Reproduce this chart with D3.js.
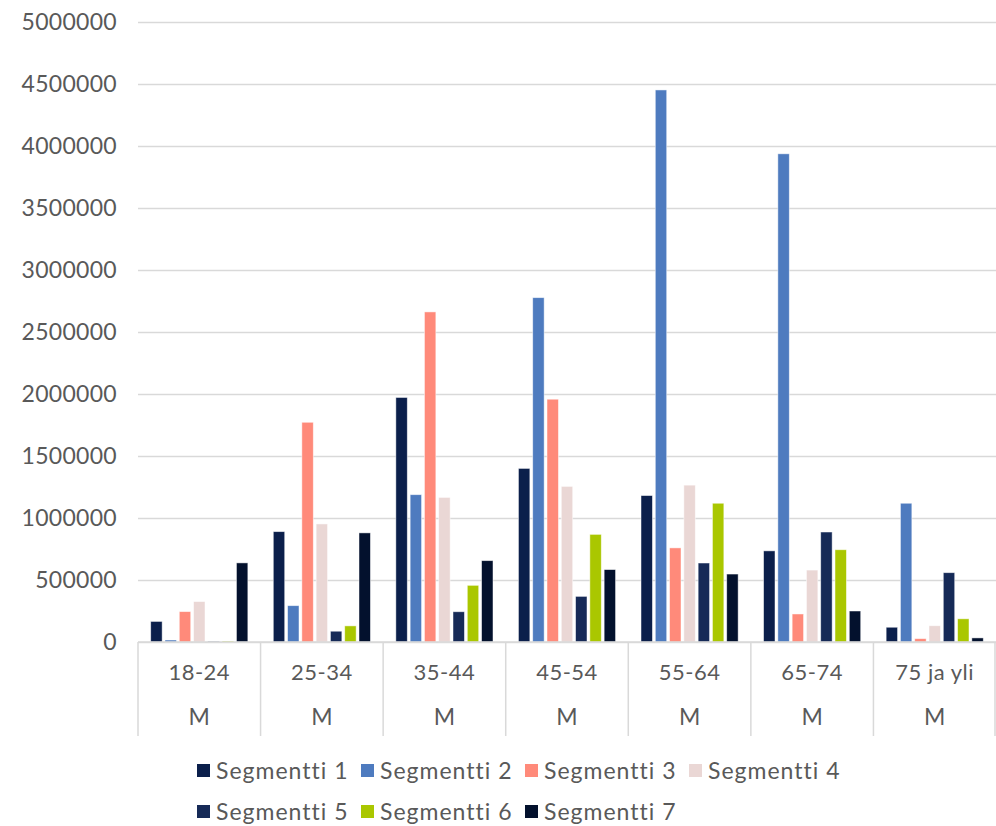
<!DOCTYPE html>
<html>
<head>
<meta charset="utf-8">
<script src="https://cdn.jsdelivr.net/npm/d3@7"></script>
<style>
  body { margin: 0; background: #fff; }
  text { font-family: "Lato", "DejaVu Sans", sans-serif; fill: #595959; }
</style>
</head>
<body>
<div id="chart"></div>
<script>
const FRAME_WIDTH = 996;
const FRAME_HEIGHT = 826;
const MARGINS = { left: 138, right: 0, top: 22, bottom: 184 };

const VIS_WIDTH = FRAME_WIDTH - MARGINS.left - MARGINS.right;
const VIS_HEIGHT = FRAME_HEIGHT - MARGINS.top - MARGINS.bottom;

// data
const AGE_GROUPS = ["18-24", "25-34", "35-44", "45-54", "55-64", "65-74", "75 ja yli"];
const GENDER = ["M", "M", "M", "M", "M", "M", "M"];
const SERIES = ["Segmentti 1", "Segmentti 2", "Segmentti 3", "Segmentti 4",
                "Segmentti 5", "Segmentti 6", "Segmentti 7"];
const SEG1 = [166000, 890000, 1972000, 1400000, 1181000, 735000, 119000];
const SEG2 = [16000, 293000, 1188000, 2777000, 4452000, 3937000, 1119000];
const SEG3 = [245000, 1772000, 2662000, 1958000, 759000, 226000, 27000];
const SEG4 = [326000, 952000, 1166000, 1255000, 1265000, 580000, 131000];
const SEG5 = [6000, 87000, 244000, 368000, 637000, 887000, 559000];
const SEG6 = [8000, 130000, 457000, 868000, 1119000, 744000, 187000];
const SEG7 = [638000, 880000, 656000, 584000, 548000, 250000, 33000];
const Y_TICKS = [0, 500000, 1000000, 1500000, 2000000, 2500000, 3000000, 3500000, 4000000, 4500000, 5000000];
const COLORS = ["#0b1f4b", "#4e7bbf", "#ff8a7a", "#ead7d5", "#162a57", "#aac700", "#03112d"];

const VALUES = [SEG1, SEG2, SEG3, SEG4, SEG5, SEG6, SEG7];

const FRAME = d3.select("#chart")
  .append("svg")
  .attr("width", FRAME_WIDTH)
  .attr("height", FRAME_HEIGHT);

// scales
const X_SCALE = d3.scaleBand()
  .domain(AGE_GROUPS)
  .range([0, VIS_WIDTH])
  .padding(0);

const X_INNER = d3.scaleBand()
  .domain(SERIES)
  .range([0, X_SCALE.bandwidth()])
  .paddingInner(0.2)
  .paddingOuter(0.89);

const Y_SCALE = d3.scaleLinear()
  .domain([0, 5000000])
  .range([VIS_HEIGHT, 0]);

const PLOT = FRAME.append("g")
  .attr("transform", `translate(${MARGINS.left}, ${MARGINS.top})`);

// y axis with gridlines
const Y_AXIS = PLOT.append("g")
  .call(d3.axisLeft(Y_SCALE)
    .tickValues(Y_TICKS)
    .tickSize(-VIS_WIDTH)
    .tickPadding(21)
    .tickFormat(d3.format("d")));

Y_AXIS.select(".domain").remove();
Y_AXIS.selectAll(".tick line")
  .attr("stroke", "#d9d9d9")
  .attr("stroke-width", 1.5);
Y_AXIS.selectAll(".tick text")
  .style("font-size", "23px")
  .style("letter-spacing", "0.3px")
  .attr("fill", "#595959");

// bars
const GROUPS = PLOT.selectAll(".group")
  .data(AGE_GROUPS)
  .enter()
  .append("g")
  .attr("transform", (d) => `translate(${X_SCALE(d)}, 0)`);

GROUPS.selectAll("rect")
  .data((d, i) => SERIES.map((s, j) => ({ series: s, value: VALUES[j][i], color: COLORS[j] })))
  .enter()
  .append("rect")
  .attr("x", (d) => X_INNER(d.series))
  .attr("y", (d) => Y_SCALE(d.value))
  .attr("width", X_INNER.bandwidth())
  .attr("height", (d) => VIS_HEIGHT - Y_SCALE(d.value))
  .attr("fill", (d) => d.color)
  .attr("stroke", "#ffffff")
  .attr("stroke-opacity", 0.6)
  .attr("stroke-width", 0.8);

// x axis: baseline, separators and two label rows
PLOT.append("line")
  .attr("x1", 0).attr("x2", VIS_WIDTH)
  .attr("y1", VIS_HEIGHT).attr("y2", VIS_HEIGHT)
  .attr("stroke", "#d9d9d9")
  .attr("stroke-width", 1.5);

const BOUNDS = AGE_GROUPS.map((d) => X_SCALE(d)).concat([VIS_WIDTH]);
PLOT.selectAll(".sep")
  .data(BOUNDS)
  .enter()
  .append("line")
  .attr("x1", (d) => Math.min(d, VIS_WIDTH - 1))
  .attr("x2", (d) => Math.min(d, VIS_WIDTH - 1))
  .attr("y1", VIS_HEIGHT)
  .attr("y2", VIS_HEIGHT + 94)
  .attr("stroke", "#d9d9d9")
  .attr("stroke-width", 1.5);

PLOT.selectAll(".age-label")
  .data(AGE_GROUPS)
  .enter()
  .append("text")
  .attr("x", (d) => X_SCALE(d) + X_SCALE.bandwidth() / 2)
  .attr("y", VIS_HEIGHT + 38)
  .attr("text-anchor", "middle")
  .style("font-size", "22px")
  .style("letter-spacing", "0.5px")
  .text((d) => d);

PLOT.selectAll(".gender-label")
  .data(AGE_GROUPS)
  .enter()
  .append("text")
  .attr("x", (d) => X_SCALE(d) + X_SCALE.bandwidth() / 2)
  .attr("y", VIS_HEIGHT + 83)
  .attr("text-anchor", "middle")
  .style("font-size", "23px")
  .text((d, i) => GENDER[i]);

// legend
const LEGEND = FRAME.append("g");
const ITEMS = LEGEND.selectAll(".item")
  .data(SERIES)
  .enter()
  .append("g")
  .attr("transform", (d, i) => `translate(${197 + (i % 4) * 164}, ${i < 4 ? 771 : 812})`);

ITEMS.append("rect")
  .attr("x", 0)
  .attr("y", -7)
  .attr("width", 13)
  .attr("height", 13)
  .attr("fill", (d, i) => COLORS[i]);

ITEMS.append("text")
  .attr("x", 19)
  .attr("y", 0)
  .attr("dy", "0.36em")
  .style("font-size", "23px")
  .style("letter-spacing", "1px")
  .text((d) => d);
</script>
</body>
</html>
